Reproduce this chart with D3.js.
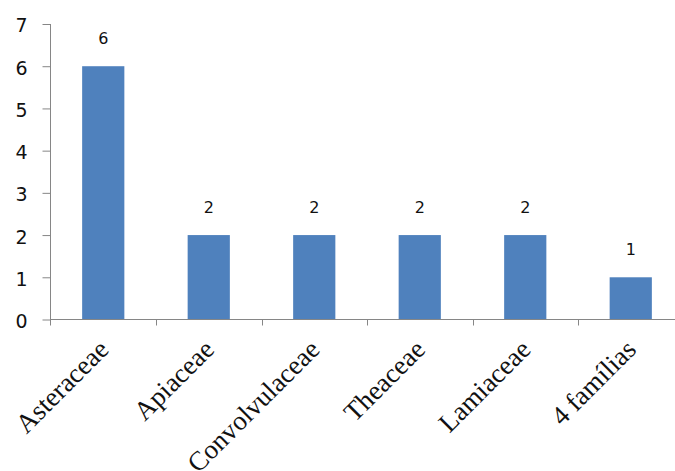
<!DOCTYPE html>
<html>
<head>
<meta charset="utf-8">
<script src="https://cdn.jsdelivr.net/npm/d3@7"></script>
<style>
  html, body { margin: 0; padding: 0; background: #fff; }
  svg { display: block; }
</style>
</head>
<body>
<svg id="chart" width="675" height="471"></svg>
<script>
const categories = ["Asteraceae", "Apiaceae", "Convolvulaceae", "Theaceae", "Lamiaceae", "4 famílias"];
const values = [6, 2, 2, 2, 2, 1];
const yTicks = [0, 1, 2, 3, 4, 5, 6, 7];

const svg = d3.select("#chart");
const axisColor = "#868686";
const barColor = "#4f81bd";

const x0 = 50.5, yBase = 319.5;
const x = d3.scaleBand().domain(categories).range([x0, x0 + 6 * 105.5]).paddingInner(0.6).paddingOuter(0.3);
const y = d3.scaleLinear().domain([0, 7]).range([yBase, 24]);

// bars
svg.append("g").selectAll("rect").data(categories).join("rect")
  .attr("x", d => x(d))
  .attr("y", (d, i) => y(values[i]))
  .attr("width", x.bandwidth())
  .attr("height", (d, i) => y(0) - y(values[i]))
  .attr("fill", barColor);

// y axis
const yAxis = svg.append("g").attr("transform", `translate(${x0},0)`)
  .call(d3.axisLeft(y).tickValues(yTicks).tickSize(8).tickPadding(15).tickFormat(d3.format("d")));
yAxis.select(".domain").remove();
yAxis.selectAll(".tick line").attr("stroke", axisColor);
yAxis.selectAll(".tick text")
  .attr("font-family", "'DejaVu Sans', Verdana, sans-serif")
  .attr("font-size", 19).attr("fill", "#111").attr("dy", "0.42em");
svg.append("line").attr("x1", x0).attr("x2", x0).attr("y1", y(7)).attr("y2", yBase + 6)
  .attr("stroke", axisColor);

// x axis line and boundary ticks
svg.append("line").attr("x1", x0).attr("x2", 675).attr("y1", yBase).attr("y2", yBase)
  .attr("stroke", axisColor);
const step = x.step();
const boundaries = categories.map(c => x(c) - step * 0.3);
svg.append("g").selectAll("line").data(boundaries.slice(1)).join("line")
  .attr("x1", d => Math.round(d) + 0.5).attr("x2", d => Math.round(d) + 0.5)
  .attr("y1", yBase).attr("y2", yBase + 6)
  .attr("stroke", axisColor);

// category labels
svg.append("g").selectAll("text").data(categories).join("text")
  .attr("transform", d => `translate(${x(d) + x.bandwidth() / 2 + 7},351) rotate(-45)`)
  .attr("text-anchor", "end")
  .attr("font-family", "'Liberation Serif', 'Times New Roman', serif")
  .attr("font-size", 27).attr("fill", "#111")
  .text(d => d);

// value labels
svg.append("g").selectAll("text").data(categories).join("text")
  .attr("x", d => x(d) + x.bandwidth() / 2)
  .attr("y", (d, i) => y(values[i]) - 22)
  .attr("text-anchor", "middle")
  .attr("font-family", "'DejaVu Sans', Verdana, sans-serif")
  .attr("font-size", 16).attr("fill", "#111")
  .text((d, i) => values[i]);
</script>
</body>
</html>
